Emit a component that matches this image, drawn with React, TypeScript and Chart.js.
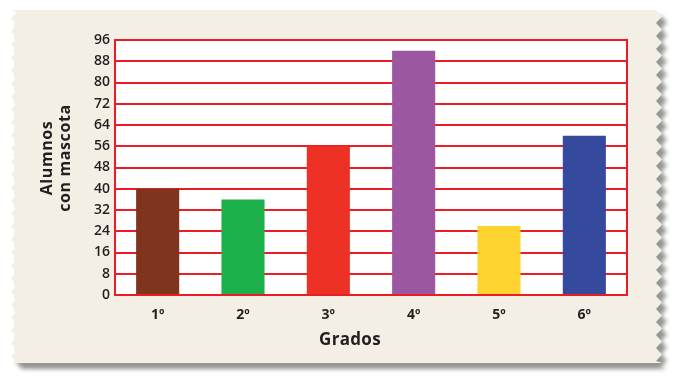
import React, { useEffect, useRef } from "react";
import { Chart, registerables } from "chart.js";

Chart.register(...registerables);

const categories = ["1º", "2º", "3º", "4º", "5º", "6º"];
const values = [40, 36, 56, 92, 26, 60];
const barColors = ["#7f341e", "#1bb04a", "#ee3125", "#9b58a1", "#fed22f", "#364a9d"];
const yMin = 0;
const yMax = 96;
const yStep = 8;
const xTitle = "Grados";
const yTitle = ["Alumnos", "con mascota"];

const FONT = "'Open Sans', 'DejaVu Sans', sans-serif";
const RED = "#ec1c24";

const paperPlugin = {
  id: "paper",
  beforeDraw(chart: any) {
    const { ctx, chartArea } = chart;
    const top = 10, bottom = 363, left = 17, right = 656, amp = 6, period = 13;
    ctx.save();
    ctx.beginPath();
    ctx.moveTo(left, top);
    ctx.lineTo(right, top);
    let y = top;
    while (y < bottom) {
      const mid = Math.min(y + period / 2, bottom);
      ctx.lineTo(right + amp, mid);
      const nxt = Math.min(y + period, bottom);
      ctx.lineTo(right, nxt);
      y = nxt;
    }
    ctx.lineTo(left, bottom);
    y = bottom;
    while (y > top) {
      const mid = Math.max(y - period / 2, top);
      ctx.lineTo(left - amp, mid);
      const nxt = Math.max(y - period, top);
      ctx.lineTo(left, nxt);
      y = nxt;
    }
    ctx.closePath();
    ctx.shadowColor = "rgba(0,0,0,0.42)";
    ctx.shadowBlur = 4;
    ctx.shadowOffsetX = 5;
    ctx.shadowOffsetY = 6;
    ctx.fillStyle = "#f3efe4";
    ctx.fill();
    ctx.restore();

    ctx.save();
    ctx.fillStyle = "#ffffff";
    ctx.fillRect(chartArea.left, chartArea.top, chartArea.right - chartArea.left, chartArea.bottom - chartArea.top);
    ctx.restore();
  },
  afterDraw(chart: any) {
    const { ctx, chartArea } = chart;
    ctx.save();
    ctx.strokeStyle = RED;
    ctx.lineWidth = 2;
    ctx.beginPath();
    ctx.moveTo(chartArea.right, chartArea.top - 1);
    ctx.lineTo(chartArea.right, chartArea.bottom + 1);
    ctx.stroke();

    ctx.fillStyle = "#231f20";
    ctx.textAlign = "center";
    ctx.textBaseline = "middle";
    ctx.font = `700 17px ${FONT}`;
    (ctx as any).letterSpacing = "0.3px";
    ctx.fillText(xTitle, (chartArea.left + chartArea.right) / 2 - 21, 340);

    ctx.translate(56, 158);
    ctx.rotate(-Math.PI / 2);
    ctx.font = `700 16px ${FONT}`;
    (ctx as any).letterSpacing = "0.6px";
    ctx.fillText(yTitle[0], 0, -9);
    ctx.fillText(yTitle[1], 0, 9);
    ctx.restore();
  },
};

export default function App() {
  const ref = useRef<HTMLCanvasElement>(null);
  useEffect(() => {
    document.body.style.margin = "0";
    const chart = new Chart(ref.current!, {
      type: "bar",
      data: {
        labels: categories,
        datasets: [
          {
            data: values,
            backgroundColor: barColors,
            borderWidth: 0,
            barPercentage: 1,
            categoryPercentage: 0.505,
          },
        ],
      },
      options: {
        animation: false,
        responsive: false,
        layout: { padding: { left: 0, right: 54, top: 40, bottom: 0 } },
        plugins: { legend: { display: false }, tooltip: { enabled: false } },
        scales: {
          x: {
            grid: { display: false, drawTicks: false },
            border: { display: true, color: RED, width: 2 },
            ticks: {
              color: "#231f20",
              padding: 12,
              font: { family: FONT, size: 14, weight: "bold" },
            },
            afterFit(scale: any) {
              scale.height = 87;
            },
          },
          y: {
            min: yMin,
            max: yMax,
            grid: { color: RED, lineWidth: 2, drawTicks: false },
            border: { display: true, color: RED, width: 2 },
            ticks: {
              stepSize: yStep,
              color: "#231f20",
              padding: 5,
              font: { family: FONT, size: 14, weight: "600" },
            },
            afterFit(scale: any) {
              scale.width = 115;
            },
          },
        },
      },
      plugins: [paperPlugin],
    });
    return () => chart.destroy();
  }, []);
  return <canvas ref={ref} width={681} height={382} style={{ display: "block" }} />;
}
